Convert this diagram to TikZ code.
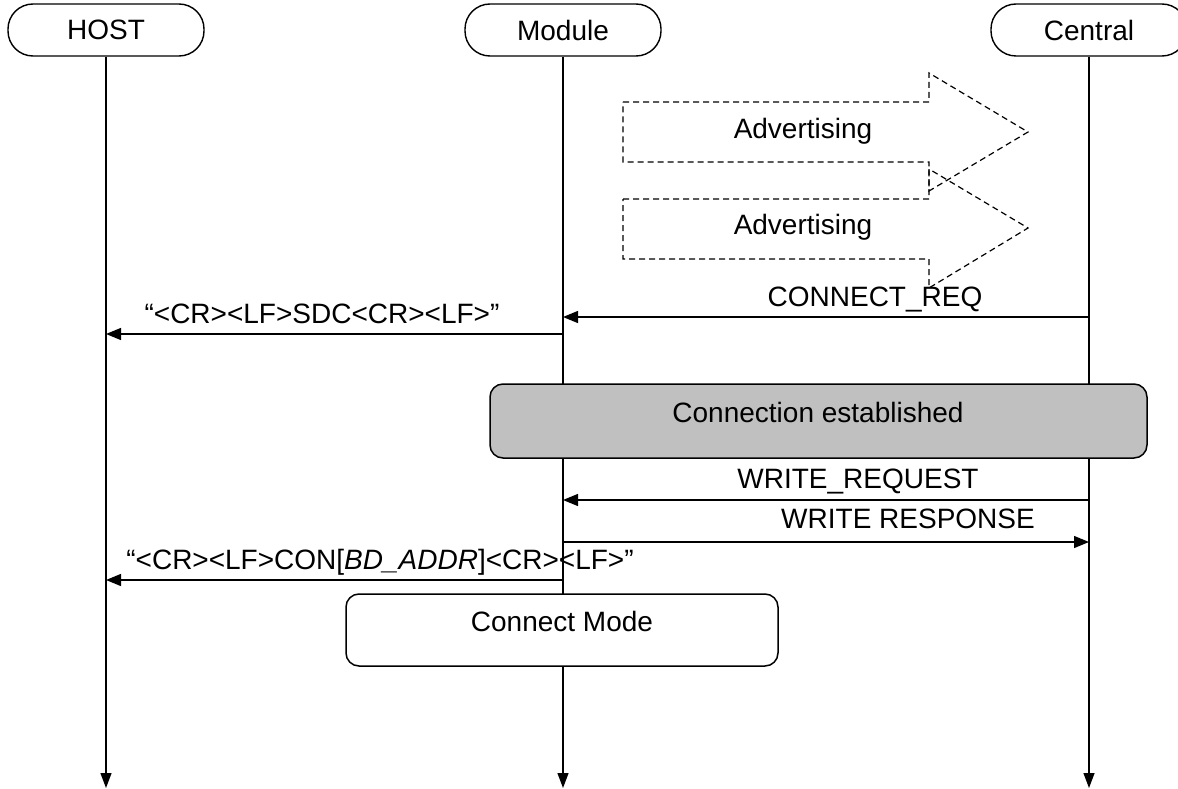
\documentclass[tikz,border=0pt]{standalone}
\usepackage{fontspec}
\setmainfont{Liberation Sans}
\usetikzlibrary{arrows.meta}

\definecolor{phasegray}{RGB}{192,192,192}

\tikzset{
  party/.style={draw, line width=1.4pt, rounded corners=25pt,
    minimum width=196pt, minimum height=52pt, inner sep=0pt},
  lifeline/.style={line width=1.3pt, -{Triangle[length=15pt,width=11pt]}},
  msg/.style={line width=1.3pt, -{Triangle[length=15pt,width=12pt]}},
  advarrow/.style={line width=1.2pt, dash pattern=on 6pt off 4pt},
  phase/.style={draw, line width=1.5pt, rounded corners=13pt, inner sep=0pt},
  lbl/.style={inner sep=0pt, anchor=base},
}

\begin{document}
\begin{tikzpicture}[x=1pt,y=-1pt,font=\fontsize{28}{32}\selectfont]
  \useasboundingbox (0,0) rectangle (1178,789);

  % parties
  \node[party] (host) at (106,30) {HOST};
  \node[party] (module) at (563,30) {Module};
  \node[party] (central) at (1089,30) {Central};

  % ends of the lifelines
  \coordinate (hostend) at (106,788);
  \coordinate (moduleend) at (563,788);
  \coordinate (centralend) at (1089,788);

  \draw[lifeline] (host) -- (hostend);
  \draw[lifeline] (module) -- (moduleend);
  \draw[lifeline] (central) -- (centralend);

  % phases on the module line
  \node[phase, fill=phasegray, minimum width=657pt, minimum height=74pt]
    (conn) at (818.5,421) {};
  \node[phase, fill=white, minimum width=432pt, minimum height=72pt]
    (mode) at (562,630) {};
  \node (conntxt) at (818,412) {Connection established};
  \node (modetxt) at (562,621) {Connect Mode};

  % advertising
  \draw[advarrow] (623,102) -- (929,102) -- (929,73) -- (1028,132)
    -- (929,191) -- (929,162) -- (623,162) -- cycle;
  \draw[advarrow] (623,199) -- (929,199) -- (929,169) -- (1028,228)
    -- (929,288) -- (929,259) -- (623,259) -- cycle;
  \node (adv1) at (803,131) {Advertising};
  \node (adv2) at (803,227) {Advertising};

  % messages
  \coordinate (c1) at (1089,317);
  \coordinate (m1) at (563,317);
  \coordinate (m2) at (563,334);
  \coordinate (h2) at (106,334);
  \coordinate (c3) at (1089,500);
  \coordinate (m3) at (563,500);
  \coordinate (m4) at (563,542);
  \coordinate (c4) at (1089,542);
  \coordinate (m5) at (563,580);
  \coordinate (h5) at (106,580);

  \draw[msg] (c1) -- (m1);
  \draw[msg] (m2) -- (h2);
  \draw[msg] (c3) -- (m3);
  \draw[msg] (m4) -- (c4);
  \draw[msg] (m5) -- (h5);

  \node[lbl] (req) at (875,306) {CONNECT\_REQ};
  \node[lbl] (sdc) at (322,323) {“<CR><LF>SDC<CR><LF>”};
  \node[lbl] (wreq) at (858,488) {WRITE\_REQUEST};
  \node[lbl] (wrsp) at (908,528) {WRITE RESPONSE};
  \node[lbl] (con) at (380,569) {“<CR><LF>CON[\textit{BD\_ADDR}]<CR><LF>”};
\end{tikzpicture}
\end{document}
